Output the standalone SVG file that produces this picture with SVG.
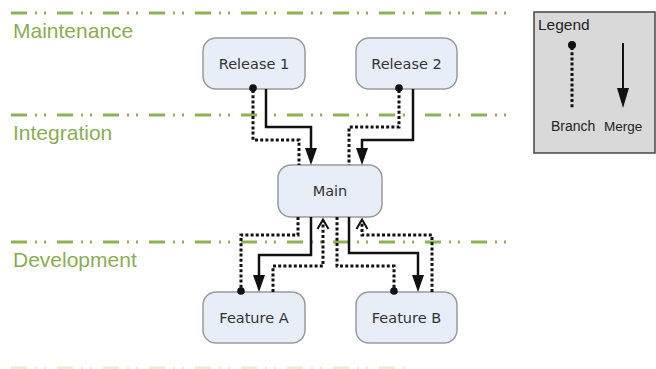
<svg xmlns="http://www.w3.org/2000/svg" width="656" height="369" viewBox="0 0 656 369">
<defs>
<style>
.lane{stroke:#8db24e;stroke-width:3;stroke-dasharray:16 8 2 7 2 11;fill:none}
.lanelbl{font-family:"Liberation Sans",Arial,sans-serif;font-size:21px;fill:#8cad52}
.node rect{fill:#e8eef8;stroke:#9a9a9a;stroke-width:1.5}
.node text{font-family:"DejaVu Sans",Verdana,sans-serif;font-size:14.5px;fill:#333;text-anchor:middle}
.br{stroke:#111;stroke-width:3;stroke-dasharray:3 2.2;fill:none}
.mg{stroke:#111;stroke-width:2.5;fill:none}
.ah{fill:#111}
.oh{fill:none;stroke:#111;stroke-width:2}
.dot{fill:#111}
.lg{font-family:"Liberation Sans",Arial,sans-serif;fill:#222}
</style>
</defs>
<rect width="656" height="369" fill="#fff"/>
<g id="lanes">
<line class="lane" x1="11" y1="13" x2="516" y2="13"/>
<line class="lane" x1="11" y1="115" x2="516" y2="115"/>
<line class="lane" x1="11" y1="242" x2="516" y2="242"/>
<line class="lane" x1="11" y1="368" x2="412" y2="368" style="stroke:#e9eecf"/>
<text class="lanelbl" x="13" y="38">Maintenance</text>
<text class="lanelbl" x="13" y="140">Integration</text>
<text class="lanelbl" x="13" y="267">Development</text>
</g>
<g id="release1" class="node"><rect x="203" y="38" width="102" height="51" rx="13"/><text x="254" y="69">Release 1</text></g>
<g id="release2" class="node"><rect x="356" y="38" width="101" height="51" rx="13"/><text x="406.5" y="69">Release 2</text></g>
<g id="main" class="node"><rect x="278" y="165" width="104" height="52" rx="13"/><text x="330" y="196">Main</text></g>
<g id="featureA" class="node"><rect x="203" y="292" width="102" height="51" rx="13"/><text x="254" y="323">Feature A</text></g>
<g id="featureB" class="node"><rect x="356" y="292" width="101" height="51" rx="13"/><text x="406.5" y="323">Feature B</text></g>
<g id="connectors">
<path class="br" d="M253,90 V140 H299 V165"/>
<circle class="dot" cx="253" cy="88" r="3.8"/>
<path class="mg" d="M266,89 V127 H311 V150"/>
<path class="ah" d="M305,148 L317,148 L311,165 Z"/>
<path class="br" d="M399,90 V127 H349 V165"/>
<circle class="dot" cx="399" cy="88" r="3.8"/>
<path class="mg" d="M413,89 V140 H362 V150"/>
<path class="ah" d="M356,148 L368,148 L362,165 Z"/>
<path class="br" d="M298,217 V235 H241 V290"/>
<circle class="dot" cx="241" cy="291" r="3.8"/>
<path class="mg" d="M311,217 V255 H259 V277"/>
<path class="ah" d="M253,275 L265,275 L259,292 Z"/>
<path class="br" d="M273,292 V266 H323 V221"/>
<path class="oh" d="M317.5,229 L323,219.5 L328.5,229"/>
<path class="br" d="M337,217 V266 H394 V290"/>
<circle class="dot" cx="394" cy="291" r="3.8"/>
<path class="mg" d="M349,217 V253 H418 V277"/>
<path class="ah" d="M412,275 L424,275 L418,292 Z"/>
<path class="br" d="M432,292 V235 H362 V221"/>
<path class="oh" d="M356.5,229 L362,219.5 L367.5,229"/>
</g>
<g id="legend">
<rect x="534" y="12" width="121" height="141" fill="#d9d9d9" stroke="#444" stroke-width="1.5"/>
<text class="lg" x="538" y="30" font-size="15.5">Legend</text>
<line class="br" x1="572" y1="47" x2="572" y2="108"/>
<circle class="dot" cx="572" cy="45" r="4"/>
<line x1="623" y1="43" x2="623" y2="92" stroke="#111" stroke-width="2"/>
<path class="ah" d="M617,88 L629,88 L623,108 Z"/>
<text class="lg" x="551" y="131" font-size="14">Branch</text>
<text class="lg" x="604" y="131" font-size="13.5">Merge</text>
</g>
</svg>
